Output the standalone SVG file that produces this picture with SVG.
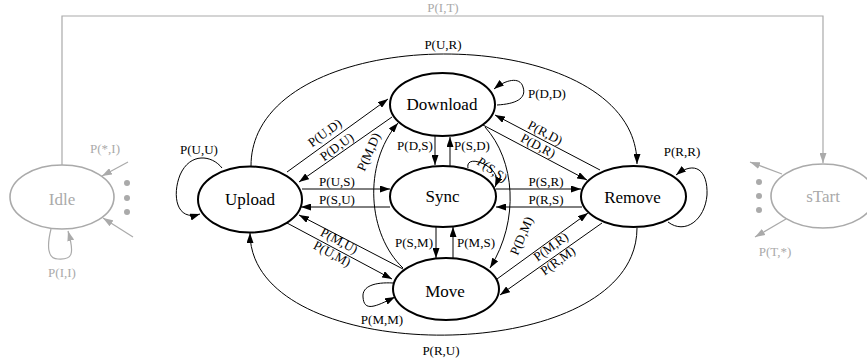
<svg xmlns="http://www.w3.org/2000/svg" width="867" height="363" viewBox="0 0 867 363">
<style>
text{font-family:"Liberation Serif","Times New Roman",serif;text-anchor:middle}
.l{font-size:13px;fill:#000}
.g{font-size:13px;fill:#aaa}
.n{font-size:17px;fill:#000}
.ng{font-size:17px;fill:#aaa}
.node{fill:#fff;stroke:#000;stroke-width:2}
.gnode{fill:#fff;stroke:#aaa;stroke-width:1.6}
.e{fill:none;stroke:#000;stroke-width:1;marker-end:url(#a)}
.eg{fill:none;stroke:#aaa;stroke-width:1.2;marker-end:url(#ag)}
.dot{fill:#aaa}
</style>
<defs>
<marker id="a" viewBox="0 0 10 7" refX="10" refY="3.5" markerWidth="10" markerHeight="7" markerUnits="userSpaceOnUse" orient="auto"><path d="M0,0L10,3.5L0,7z" fill="#000"/></marker>
<marker id="ag" viewBox="0 0 10 7" refX="10" refY="3.5" markerWidth="10" markerHeight="7" markerUnits="userSpaceOnUse" orient="auto"><path d="M0,0L10,3.5L0,7z" fill="#aaa"/></marker>
</defs>
<g id="connectors">
<path class="eg" d="M62,165V16H823V163"/>
<text class="g" x="443" y="12">P(I,T)</text>
<path class="eg" d="M51,229C47,245 47,259 58,259C72,260 75,255 68,231"/>
<text class="g" x="62" y="277">P(I,I)</text>
<path class="eg" d="M128,162L102,176"/>
<text class="g" x="105" y="153">P(*,I)</text>
<path class="eg" d="M133,237L103,218"/>
<path class="eg" d="M782,174L750,162"/>
<path class="eg" d="M786,219L755,237"/>
<text class="g" x="775" y="256">P(T,*)</text>

<path class="e" d="M251,166C251,17 637,17 637,164"/>
<text class="l" x="443" y="49">P(U,R)</text>
<path class="e" d="M637,228C637,370 250,370 250,233"/>
<text class="l" x="441" y="355">P(R,U)</text>

<path class="e" d="M222,168C212,155 190,152 180,175C172,195 176,222 200,214"/>
<text class="l" x="199" y="154">P(U,U)</text>
<path class="e" d="M497,105C515,104 527,99 523,87C520,76 505,80 494,89"/>
<text class="l" x="547" y="98">P(D,D)</text>
<path class="e" d="M668,222C685,235 705,220 707,195C708,170 695,160 676,175"/>
<text class="l" x="682" y="156">P(R,R)</text>
<path class="e" d="M393,283C375,282 362,286 363,297C364,312 375,307 395,297"/>
<text class="l" x="382" y="324">P(M,M)</text>
<path class="e" d="M468,168C466,158 480,160 490,168C497,174 498,180 495,187"/>
<text class="l" transform="translate(492,170) rotate(35)" y="4">P(S,S)</text>

<path class="e" d="M287,172L388,99"/>
<text class="l" transform="translate(325,133) rotate(-36)" y="4">P(U,D)</text>
<path class="e" d="M392,117L299,182"/>
<text class="l" transform="translate(337,147) rotate(-36)" y="4">P(D,U)</text>

<path class="e" d="M302,189H390"/>
<text class="l" x="337" y="186">P(U,S)</text>
<path class="e" d="M390,207H301"/>
<text class="l" x="337" y="204">P(S,U)</text>

<path class="e" d="M496,189H581"/>
<text class="l" x="546" y="186">P(S,R)</text>
<path class="e" d="M582,207H496"/>
<text class="l" x="546" y="204">P(R,S)</text>

<path class="e" d="M600,170L495,115"/>
<text class="l" transform="translate(545,133) rotate(28)" y="4">P(R,D)</text>
<path class="e" d="M483,125L587,180"/>
<text class="l" transform="translate(538,146) rotate(28)" y="4">P(D,R)</text>

<path class="e" d="M403,269L299,215"/>
<text class="l" transform="translate(339,241) rotate(28)" y="4">P(M,U)</text>
<path class="e" d="M287,223L392,279"/>
<text class="l" transform="translate(332,254) rotate(28)" y="4">P(U,M)</text>

<path class="e" d="M497,279L588,213"/>
<text class="l" transform="translate(551,247) rotate(-36)" y="4">P(M,R)</text>
<path class="e" d="M602,223L500,295"/>
<text class="l" transform="translate(558,261) rotate(-36)" y="4">P(R,M)</text>

<path class="e" d="M435,136V165"/>
<text class="l" x="415" y="150">P(D,S)</text>
<path class="e" d="M450,166V137"/>
<text class="l" x="472" y="150">P(S,D)</text>

<path class="e" d="M436,227V258"/>
<text class="l" x="414" y="247">P(S,M)</text>
<path class="e" d="M453,258V227"/>
<text class="l" x="476" y="247">P(M,S)</text>

<path class="e" d="M485,127C515,160 520,220 490,268"/>
<text class="l" transform="translate(522,236) rotate(-67)" y="4">P(D,M)</text>
<path class="e" d="M403,268C368,235 362,165 398,123"/>
<text class="l" transform="translate(369,152) rotate(-66)" y="4">P(M,D)</text>
</g>
<g id="idle">
<ellipse class="gnode" cx="62" cy="197" rx="52" ry="32"/>
<text class="ng" x="62" y="205">Idle</text>
<circle class="dot" cx="127" cy="183" r="3"/>
<circle class="dot" cx="127" cy="198" r="3"/>
<circle class="dot" cx="127" cy="212" r="3"/>
</g>
<g id="start">
<ellipse class="gnode" cx="823" cy="196" rx="52" ry="32"/>
<text class="ng" x="823" y="202">sTart</text>
<circle class="dot" cx="759" cy="182" r="3"/>
<circle class="dot" cx="759" cy="196" r="3"/>
<circle class="dot" cx="759" cy="210" r="3"/>
</g>
<g id="upload">
<ellipse class="node" cx="250" cy="199.5" rx="52" ry="33"/>
<text class="n" x="250" y="205">Upload</text>
</g>
<g id="download">
<ellipse class="node" cx="442.5" cy="104.5" rx="52.5" ry="31.5"/>
<text class="n" x="442" y="110">Download</text>
</g>
<g id="sync">
<ellipse class="node" cx="443" cy="196.5" rx="53" ry="30.5"/>
<text class="n" x="442.5" y="202">Sync</text>
</g>
<g id="remove">
<ellipse class="node" cx="633.5" cy="196.5" rx="52.5" ry="30.5"/>
<text class="n" x="632.5" y="203">Remove</text>
</g>
<g id="move">
<ellipse class="node" cx="446" cy="289" rx="53" ry="31"/>
<text class="n" x="445" y="297">Move</text>
</g>
</svg>
